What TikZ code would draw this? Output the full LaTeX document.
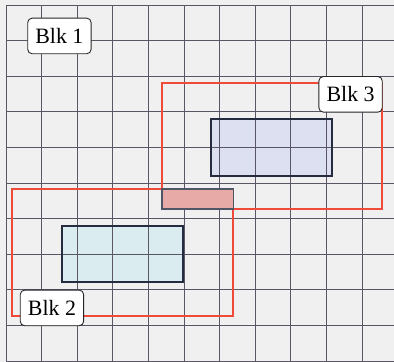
\documentclass[tikz,border=0pt]{standalone}
\usepackage{fontspec}
\setmainfont{Liberation Serif}
\definecolor{bg}{HTML}{F0F0F0}
\definecolor{gridc}{HTML}{5A5666}
\definecolor{redline}{HTML}{F04A38}
\definecolor{navy}{HTML}{262C40}
\definecolor{fillA}{HTML}{DCE0F0}
\definecolor{fillB}{HTML}{DAECF0}
\definecolor{pinkf}{HTML}{E8AAA6}
\tikzset{
  gridline/.style={draw=gridc, line width=0.7pt},
  blkframe/.style={draw=redline, line width=1.3pt},
  inner/.style={draw=navy, line width=1.5pt},
  lbl/.style={draw=black!85, fill=white, rounded corners=3.5pt, line width=0.7pt,
    minimum width=1.78cm, minimum height=1.0cm, inner sep=0pt, font=\fontsize{17.5}{19}\selectfont},
}
\begin{document}
\begin{tikzpicture}
\useasboundingbox[fill=bg] (-0.169,-0.028) rectangle (10.899,10.14);
% inner rectangle fills (grid shows through)
\node[fill=fillA, minimum width=3.4cm, minimum height=1.6cm, inner sep=0pt] (r3) at (7.46,6.0) {};
\node[fill=fillB, minimum width=3.4cm, minimum height=1.57cm, inner sep=0pt] (r2) at (3.27,3.005) {};
% grid
\foreach \i in {0,...,10} {
  \draw[gridline] (\i,0) -- (\i,10);
  \draw[gridline] (0,\i) -- (10.899,\i);
}
% inner rectangle borders
\draw[inner] (r3.south west) rectangle (r3.north east);
\draw[inner] (r2.south west) rectangle (r2.north east);
% block frames
\draw[blkframe] (4.38,4.27) rectangle (10.56,7.81);
\draw[blkframe] (0.17,1.26) rectangle (6.38,4.83);
% overlap
\node[draw=navy!80, line width=0.9pt, fill=pinkf, minimum width=2.0cm, minimum height=0.56cm, inner sep=0pt] (ov) at (5.38,4.55) {};
% labels
\node[lbl] (b1) at (1.50,9.13) {Blk 1};
\node[lbl] (b3) at (9.68,7.49) {Blk 3};
\node[lbl] (b2) at (1.29,1.49) {Blk 2};
\end{tikzpicture}
\end{document}
